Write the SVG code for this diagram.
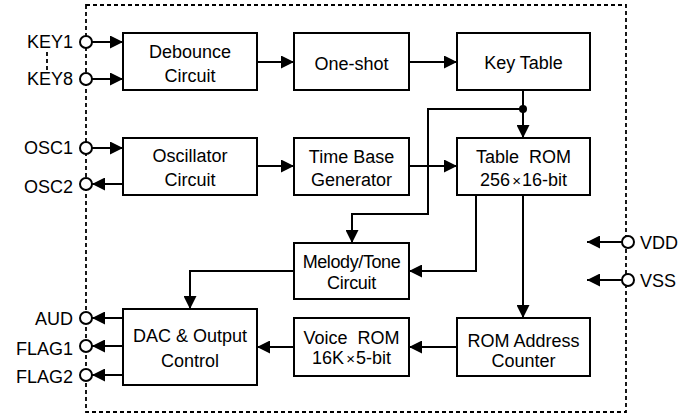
<svg xmlns="http://www.w3.org/2000/svg" width="681" height="417" viewBox="0 0 681 417">
<defs>
<marker id="ah" markerUnits="userSpaceOnUse" markerWidth="13" markerHeight="13" refX="13" refY="6.5" orient="auto">
<path d="M0,0 L13,6.5 L0,13 z" fill="#000"/>
</marker>
</defs>
<style>
.box{fill:#fff;stroke:#000;stroke-width:2}
.t{font-family:"Liberation Sans",Arial,sans-serif;font-size:18px;fill:#000;text-anchor:middle;white-space:pre}
.pl{font-family:"Liberation Sans",Arial,sans-serif;font-size:18px;fill:#000;text-anchor:end}
.pr{font-family:"Liberation Sans",Arial,sans-serif;font-size:18px;fill:#000;text-anchor:start}
.c{fill:none;stroke:#000;stroke-width:2}
.a{marker-end:url(#ah)}
.pin{fill:#fff;stroke:#000;stroke-width:2}
.dash{fill:none;stroke:#000;stroke-width:1.8;stroke-dasharray:4 3}
</style>
<rect class="dash" x="86" y="5" width="540" height="407"/>
<line class="dash" x1="47" y1="52" x2="47" y2="71"/>
<g id="connectors">
<path class="c a" d="M92,42 H123"/>
<path class="c a" d="M92,79 H123"/>
<path class="c a" d="M92,148 H123"/>
<path class="c a" d="M123,184 H92"/>
<path class="c a" d="M257,62 H294"/>
<path class="c a" d="M409,62 H457"/>
<path class="c a" d="M523,90 V138"/>
<path class="c a" d="M523,109 H428 V214 H352 V243"/>
<path class="c a" d="M257,166 H294"/>
<path class="c a" d="M409,166 H457"/>
<path class="c a" d="M476,195 V271 H409"/>
<path class="c a" d="M523,195 V318"/>
<path class="c a" d="M457,347 H409"/>
<path class="c a" d="M294,347 H257"/>
<path class="c a" d="M294,271 H190 V309"/>
<path class="c a" d="M123,318 H92"/>
<path class="c a" d="M123,346 H92"/>
<path class="c a" d="M123,375 H92"/>
<path class="c a" d="M622,242 H587"/>
<path class="c a" d="M622,280 H587"/>
<circle cx="523" cy="109" r="4" fill="#000"/>
</g>
<g id="debounce"><rect class="box" x="123" y="33" width="134" height="57"/><text class="t" x="190" y="58">Debounce</text><text class="t" x="190" y="82">Circuit</text></g>
<g id="oneshot"><rect class="box" x="294" y="33" width="115" height="57"/><text class="t" x="351.5" y="70">One-shot</text></g>
<g id="keytable"><rect class="box" x="457" y="33" width="133" height="57"/><text class="t" x="523.5" y="69">Key Table</text></g>
<g id="oscillator"><rect class="box" x="123" y="138" width="134" height="57"/><text class="t" x="190" y="162">Oscillator</text><text class="t" x="190" y="186">Circuit</text></g>
<g id="timebase"><rect class="box" x="294" y="138" width="115" height="57"/><text class="t" x="351.5" y="163">Time Base</text><text class="t" x="351.5" y="186">Generator</text></g>
<g id="tablerom"><rect class="box" x="457" y="138" width="133" height="57"/><text class="t" x="523.5" y="163">Table  ROM</text><text class="t" x="523.5" y="186">256<tspan font-size="15" dx="2">×</tspan><tspan dx="1">16-bit</tspan></text></g>
<g id="melody"><rect class="box" x="294" y="243" width="115" height="56"/><text class="t" x="351.5" y="268" letter-spacing="-0.4">Melody/Tone</text><text class="t" x="351.5" y="289" letter-spacing="-0.3">Circuit</text></g>
<g id="dac"><rect class="box" x="123" y="309" width="134" height="76"/><text class="t" x="190" y="342">DAC &amp; Output</text><text class="t" x="190" y="367">Control</text></g>
<g id="voicerom"><rect class="box" x="294" y="318" width="115" height="58"/><text class="t" x="351.5" y="344">Voice  ROM</text><text class="t" x="351.5" y="364">16K<tspan font-size="15" dx="2">×</tspan><tspan dx="1">5-bit</tspan></text></g>
<g id="romaddr"><rect class="box" x="457" y="318" width="133" height="58"/><text class="t" x="523.5" y="347">ROM Address</text><text class="t" x="523.5" y="367">Counter</text></g>
<g id="pins">
<circle class="pin" cx="86" cy="42" r="6"/><text class="pl" x="73" y="48">KEY1</text>
<circle class="pin" cx="86" cy="79" r="6"/><text class="pl" x="73" y="85">KEY8</text>
<circle class="pin" cx="86" cy="148" r="6"/><text class="pl" x="73" y="154">OSC1</text>
<circle class="pin" cx="86" cy="184" r="6"/><text class="pl" x="73" y="193">OSC2</text>
<circle class="pin" cx="86" cy="318" r="6"/><text class="pl" x="73" y="325">AUD</text>
<circle class="pin" cx="86" cy="346" r="6"/><text class="pl" x="73" y="355">FLAG1</text>
<circle class="pin" cx="86" cy="375" r="6"/><text class="pl" x="73" y="383">FLAG2</text>
<circle class="pin" cx="628" cy="242" r="6"/><text class="pr" x="640" y="249">VDD</text>
<circle class="pin" cx="628" cy="280" r="6"/><text class="pr" x="640" y="287">VSS</text>
</g>
</svg>
